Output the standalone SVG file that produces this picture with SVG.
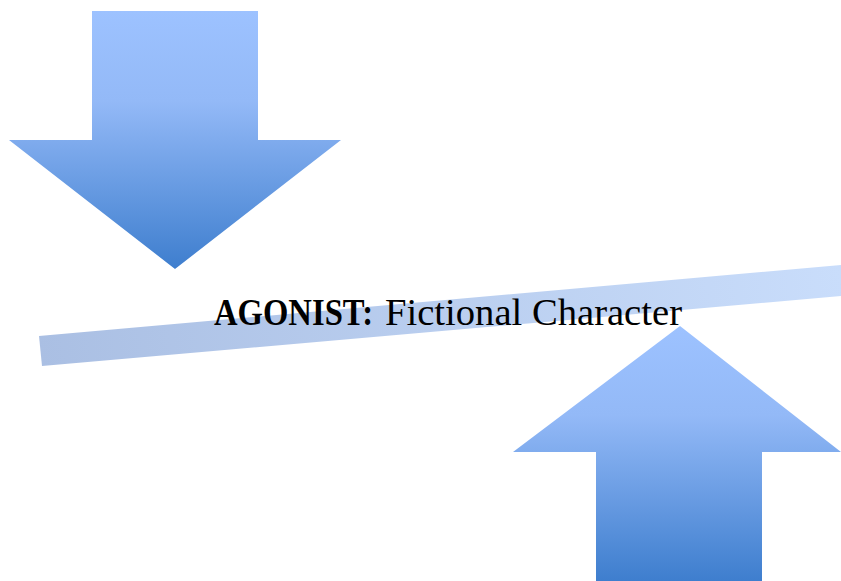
<svg xmlns="http://www.w3.org/2000/svg" width="841" height="581" viewBox="0 0 841 581">
  <defs>
    <linearGradient id="arrowDown" gradientUnits="userSpaceOnUse" x1="0" y1="11" x2="0" y2="269">
      <stop offset="0" stop-color="#9DC2FF"/>
      <stop offset="0.35" stop-color="#93B9F7"/>
      <stop offset="1" stop-color="#3E7ECE"/>
    </linearGradient>
    <linearGradient id="arrowUp" gradientUnits="userSpaceOnUse" x1="0" y1="326" x2="0" y2="581">
      <stop offset="0" stop-color="#9DC2FF"/>
      <stop offset="0.35" stop-color="#93B9F7"/>
      <stop offset="1" stop-color="#3E7ECE"/>
    </linearGradient>
    <linearGradient id="barGrad" gradientUnits="userSpaceOnUse" x1="40" y1="366" x2="841" y2="265">
      <stop offset="0" stop-color="#AABFE3"/>
      <stop offset="1" stop-color="#C9DDFB"/>
    </linearGradient>
  </defs>
  <style>
    .lbl { font-family: "Liberation Serif", "Times New Roman", serif; font-size: 37px; fill: #000; }
    .bold { font-weight: bold; }
  </style>
  <g id="down-arrow">
    <polygon points="92,11 258,11 258,140 341,140 175,269 9,140 92,140" fill="url(#arrowDown)"/>
  </g>
  <g id="up-arrow">
    <polygon points="680,326 841,452 762,452 762,581 596,581 596,452 513,452" fill="url(#arrowUp)"/>
  </g>
  <g id="seesaw">
    <polygon points="39,336 841,265 841,296 42,366" fill="url(#barGrad)"/>
  </g>
  <g id="label">
    <text class="lbl bold" x="214" y="325" textLength="159" lengthAdjust="spacingAndGlyphs">AGONIST:</text>
    <text class="lbl" x="385" y="325" textLength="297" lengthAdjust="spacingAndGlyphs">Fictional Character</text>
  </g>
</svg>
